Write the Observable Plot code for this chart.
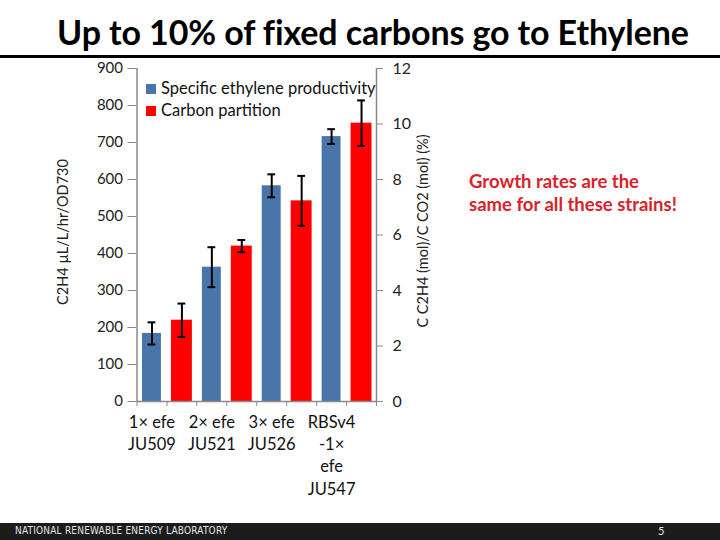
<!DOCTYPE html>
<html>
<head>
<meta charset="utf-8">
<script src="https://cdn.jsdelivr.net/npm/d3@7"></script>
<script src="https://cdn.jsdelivr.net/npm/@observablehq/plot@0.6"></script>
<style>
  html, body { margin: 0; padding: 0; background: #fff; }
  #page { position: relative; width: 720px; height: 540px; overflow: hidden; font-family: Lato, "Open Sans", sans-serif; color: #1a1a1a; }
  #page > * { position: absolute; }
  #title { left: 0; width: 746px; top: 11px; text-align: center; font-size: 34px; font-weight: 700; color: #000; letter-spacing: -0.1px; }
  #rule { left: 0; top: 55px; width: 720px; height: 3px; background: #000; }
  #chart { left: 0; top: 0; }
  .legend { font-size: 16.5px; color: #111; white-space: nowrap; }
  .sw { display: inline-block; width: 10px; height: 10px; margin-right: 5px; vertical-align: 0px; }
  .ytitle { font-size: 14.5px; color: #222; white-space: nowrap; transform: translate(-50%, -50%) rotate(-90deg); }
  #note { left: 469px; top: 170px; font-size: 18.5px; font-weight: 700; color: #d8232a; line-height: 23px; white-space: nowrap; }
  #footer { left: 0; top: 523px; width: 720px; height: 17px; background: #1c1c1c; }
  #footer .org { position: absolute; left: 15px; top: 2px; font-size: 10px; color: #e6e6e6; letter-spacing: 0.2px; font-family: "DejaVu Sans Condensed", "Liberation Sans Narrow", sans-serif; }
  #footer .num { position: absolute; left: 658px; top: 1px; font-size: 11px; color: #e6e6e6; }
</style>
</head>
<body>
<div id="page">
  <div id="chart"></div>
  <div id="title">Up to 10% of fixed carbons go to Ethylene</div>
  <div id="rule"></div>
  <div class="legend" style="left:146px; top:78px;"><span class="sw" style="background:#4a75aa"></span>Specific ethylene productivity</div>
  <div class="legend" style="left:146px; top:100px;"><span class="sw" style="background:#ff0000"></span>Carbon partition</div>
  <div class="ytitle" style="left:62px; top:232px;">C2H4 µL/L/hr/OD730</div>
  <div class="ytitle" style="left:422px; top:231px;">C C2H4 (mol)/C CO2 (mol) (%)</div>
  <div id="note">Growth rates are the<br>same for all these strains!</div>
  <div id="footer"><span class="org">NATIONAL RENEWABLE ENERGY LABORATORY</span><span class="num">5</span></div>
</div>
<script>
// ---- data ----
const categories = ["1× efe\nJU509", "2× efe\nJU521", "3× efe\nJU526", "RBSv4\n-1×\nefe\nJU547"];
const productivity = [184, 363, 583, 716];        // C2H4 µL/L/hr/OD730 (left axis)
const productivityErr = [30, 54, 31, 20];
const partition = [2.93, 5.6, 7.23, 10.03];        // % (right axis)
const partitionErr = [0.6, 0.22, 0.9, 0.82];
const leftTicks = [0, 100, 200, 300, 400, 500, 600, 700, 800, 900];
const rightTicks = [0, 2, 4, 6, 8, 10, 12];

const k = 900 / 12; // right-axis value -> left-axis units

const blue = categories.map((c, i) => ({c, x1: 2 * i, x2: 2 * i + 1, xm: 2 * i + 0.5, v: productivity[i], e: productivityErr[i]}));
const red = categories.map((c, i) => ({c, x1: 2 * i + 1, x2: 2 * i + 2, xm: 2 * i + 1.5, v: partition[i] * k, e: partitionErr[i] * k}));
const errs = blue.concat(red);
const axisGray = "#8a8a8a";

const chart = Plot.plot({
  width: 720,
  height: 540,
  marginLeft: 136.5,
  marginRight: 344,
  marginTop: 68,
  marginBottom: 139,
  style: {fontFamily: "Lato, 'Open Sans', sans-serif", fontSize: "15px", color: "#222", background: "transparent"},
  x: {domain: [0, 8]},
  y: {domain: [0, 900]},
  marks: [
    Plot.rectY(blue, {x1: "x1", x2: "x2", y: "v", fill: "#4a75aa", insetLeft: 5.5, insetRight: 5.5}),
    Plot.rectY(red, {x1: "x1", x2: "x2", y: "v", fill: "#ff0000", insetLeft: 4.5, insetRight: 4.5}),
    Plot.ruleX(errs, {x: "xm", y1: d => d.v - d.e, y2: d => d.v + d.e, stroke: "#000", strokeWidth: 2}),
    Plot.ruleY(errs, {y: d => d.v + d.e, x1: d => d.xm - 0.13, x2: d => d.xm + 0.13, stroke: "#000", strokeWidth: 2}),
    Plot.ruleY(errs, {y: d => d.v - d.e, x1: d => d.xm - 0.13, x2: d => d.xm + 0.13, stroke: "#000", strokeWidth: 2}),
    Plot.ruleX([0, 8], {stroke: axisGray, strokeWidth: 1.5}),
    Plot.ruleY([0], {stroke: axisGray, strokeWidth: 1.5}),
    Plot.axisY({anchor: "left", ticks: leftTicks, tickFormat: d => d, tickSize: 9, tickPadding: 5, stroke: axisGray, label: null, fill: "#222", fontSize: 15}),
    Plot.axisY({anchor: "right", ticks: rightTicks.map(v => v * k), tickFormat: d => Math.round(d / k), tickSize: 6, tickPadding: 10, stroke: axisGray, label: null, fill: "#222", fontSize: 16}),
    Plot.axisX({ticks: d3.range(0, 9), tickFormat: () => "", tickSize: 5, stroke: axisGray, label: null}),
    Plot.text(blue, {x: "xm", y: 0, text: "c", lineAnchor: "top", dy: 11, lineHeight: 1.34, fontSize: 16.5, fill: "#111"})
  ]
});
document.getElementById("chart").appendChild(chart);
</script>
</body>
</html>
